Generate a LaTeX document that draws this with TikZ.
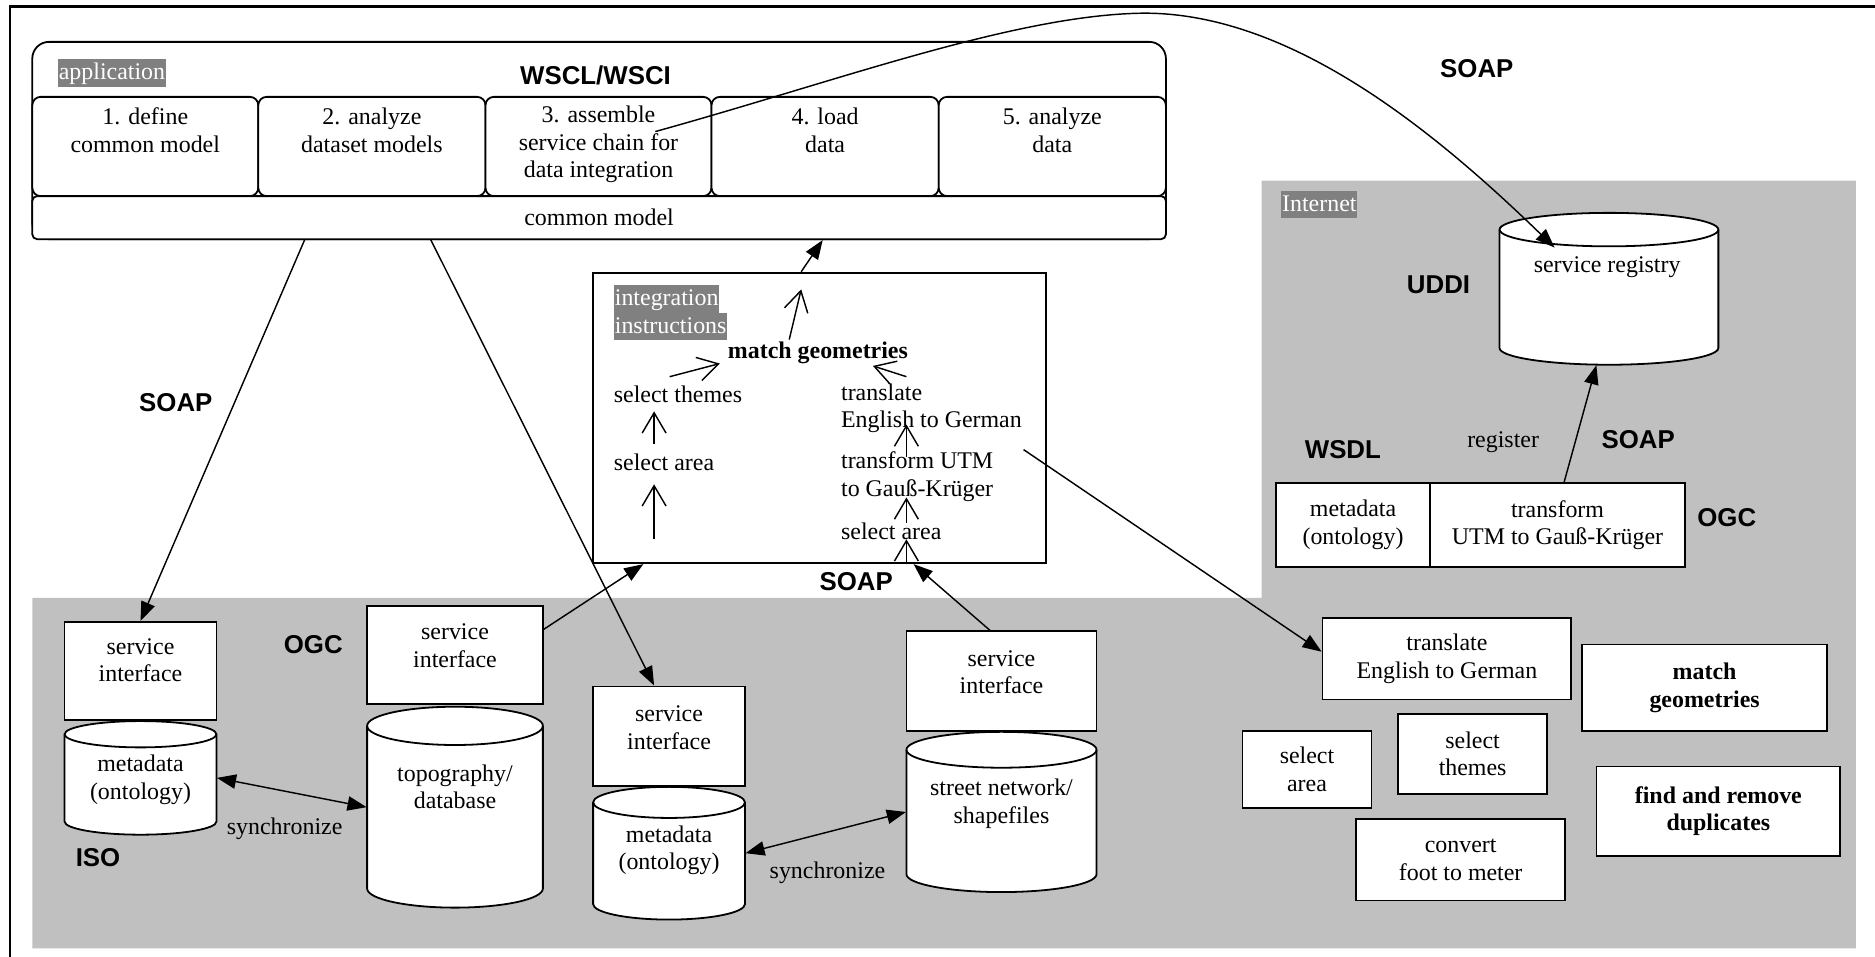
\documentclass[tikz,border=0pt]{standalone}
\usepackage{fontspec}
\setmainfont{Liberation Serif}
\setsansfont{Liberation Sans}
\usetikzlibrary{arrows.meta,calc}
\definecolor{zoneGray}{HTML}{C0C0C0}
\definecolor{tagGray}{HTML}{808080}

% rectangular box node: [options]{name}{x1}{y1}{x2}{y2}{text}
\newcommand\rbox[7][]{%
  \node[draw,fill=white,line width=0.75pt,#1,
        minimum width={(#5-#3)*0.5pt},minimum height={(#6-#4)*0.5pt}]
        (#2) at ({(#3+#5)/2},{(#4+#6)/2}) {#7};}

% upright cylinder (data store): {name}{x1}{y1}{x2}{y2}{ellipse half height}
\newcommand\drum[6]{%
  \pgfmathsetmacro\drx{(#4-#2)/4}%
  \pgfmathsetmacro\dry{#6/2}%
  \filldraw[line width=0.75pt,fill=white]
    (#2,{#3+#6}) -- (#2,{#5-#6})
    arc[start angle=180,end angle=360,x radius=\drx pt,y radius=\dry pt]
    -- (#4,{#3+#6})
    arc[start angle=0,end angle=180,x radius=\drx pt,y radius=\dry pt] -- cycle;
  \draw[line width=0.75pt] (#2,{#3+#6})
    arc[start angle=180,end angle=360,x radius=\drx pt,y radius=\dry pt];
  \node[minimum width={(#4-#2)*0.5pt},minimum height={(#5-#3)*0.5pt}]
    (#1) at ({(#2+#4)/2},{(#3+#5)/2}) {};}

\begin{document}
\begin{tikzpicture}[x=0.5pt,y=-0.5pt,
  every node/.style={inner sep=0pt},
  txt/.style={font=\fontsize{10}{11.5}\selectfont,align=center},
  btxt/.style={font=\bfseries\fontsize{10}{11.5}\selectfont,align=center},
  lbl/.style={font=\sffamily\bfseries\fontsize{10.8}{12}\selectfont},
  tag/.style={fill=tagGray,text=white,font=\fontsize{10}{11.5}\selectfont,
              text height=8.6pt,text depth=2.9pt,inner xsep=0.4pt},
  outline/.style={line width=0.75pt},
  conn/.style={line width=0.6pt},
  ftip/.style={-{Triangle[length=8pt,width=6pt]}},
  dtip/.style={{Triangle[length=8pt,width=6pt]}-{Triangle[length=8pt,width=6pt]}},
  vtip/.style={-{Straight Barb[length=8.5pt,width=10pt]}},
]
\useasboundingbox (0,0) rectangle (1568,800);

% shaded zones: local network and Internet
\fill[zoneGray] (27,500) -- (1055,500) -- (1055,151) -- (1552,151)
  -- (1552,793) -- (27,793) -- cycle;

% page frame
\draw[line width=1pt,line join=miter] (8.5,800) -- (8.5,5.5) -- (1568,5.5);

% ---------------- application ----------------
\draw[outline,rounded corners=7pt] (27,35) rectangle (975,200);
\node[tag,anchor=north west] (apptag) at (48,49) {application};
\node[lbl] (wscl) at (498,63) {WSCL/WSCI};
\rbox[rounded corners=3.5pt]{s1}{27}{81}{216}{164}{}
\rbox[rounded corners=3.5pt]{s2}{216}{81}{406}{164}{}
\rbox[rounded corners=3.5pt]{s3}{406}{81}{595}{164}{}
\rbox[rounded corners=3.5pt]{s4}{595}{81}{785}{164}{}
\rbox[rounded corners=3.5pt]{s5}{785}{81}{975}{164}{}
\node[txt] (t1) at (121.5,109) {1. define\\common model};
\node[txt] (t2) at (311,109) {2. analyze\\dataset models};
\node[txt] (t3) at (500.5,121) {3. assemble\\service chain for\\data integration};
\node[txt] (t4) at (690,109) {4. load\\data};
\node[txt] (t5) at (880,109) {5. analyze\\data};
\rbox[txt,rounded corners=2pt]{cm}{27}{164}{975}{200}{common model}

% ---------------- integration instructions ----------------
\rbox{intg}{496}{228}{875}{471}{}
\node[tag,anchor=north west] (intag1) at (513,238) {integration};
\node[tag,anchor=north west] (intag2) at (513,261) {instructions};
\node[btxt] (mg) at (684,295) {match geometries};
\node[txt,anchor=west] (lst) at (513,330) {select themes};
\node[txt,anchor=west] (lsa) at (513,387) {select area};
\node[txt,anchor=west,align=left] (rtr) at (703,341.5) {translate\\English to German};
\node[txt,anchor=west,align=left] (rtf) at (703,398.5) {transform UTM\\to Gauß-Krüger};
\node[txt,anchor=west] (rsa) at (703,444) {select area};

\coordinate (ia1) at (547,451); \coordinate (ib1) at (547,405);
\coordinate (ia2) at (547,371); \coordinate (ib2) at (547,344);
\coordinate (ia3) at (560,315); \coordinate (ib3) at (602,304);
\coordinate (ia4) at (758,315); \coordinate (ib4) at (730,306);
\coordinate (ib5) at (758,451);
\coordinate (ia6) at (758,437); \coordinate (ib6) at (758,416);
\coordinate (ia7) at (758,382); \coordinate (ib7) at (758,355);
\coordinate (ia8) at (660,284); \coordinate (ib8) at (670,242);
\draw[conn,vtip] (ia1) -- (ib1);
\draw[conn,vtip] (ia2) -- (ib2);
\draw[conn,vtip] (ia3) -- (ib3);
\draw[conn,vtip] (ia4) -- (ib4);
\draw[conn,vtip] ([xshift=36.25pt]intg.south) -- (ib5);
\draw[conn,vtip] (ia6) -- (ib6);
\draw[conn,vtip] (ia7) -- (ib7);
\draw[conn,vtip] (ia8) -- (ib8);

% ---------------- local services ----------------
\rbox{si1}{54}{520}{181}{602}{}
\node[txt] (si1t) at (117.5,552) {service\\interface};
\drum{meta1}{54}{603}{181}{698}{11}
\node[txt] (meta1t) at (117.5,652) {metadata\\(ontology)};

\rbox{tsi}{307}{507}{454}{589}{}
\node[txt] (tsit) at (380.5,540) {service\\interface};
\drum{topo}{307}{591}{454}{759}{16}
\node[txt] (topot) at (380.5,658) {topography/\\database};

\rbox{si2}{496}{574}{623}{657}{}
\node[txt] (si2t) at (559.5,608.5) {service\\interface};
\drum{meta2}{496}{658}{623}{769}{13}
\node[txt] (meta2t) at (559.5,711) {metadata\\(ontology)};

\rbox{ssi}{758}{528}{917}{611}{}
\node[txt] (ssit) at (837.5,562) {service\\interface};
\drum{street}{758}{612}{917}{746}{15}
\node[txt] (streett) at (837.5,672) {street network/\\shapefiles};

\node[lbl] (ogc1) at (262,539) {OGC};
\node[lbl] (iso) at (82,717) {ISO};
\node[lbl] (soap1) at (147,337) {SOAP};
\node[lbl] (soap2) at (716,486) {SOAP};
\node[txt] (sync1) at (238,693) {synchronize};
\node[txt] (sync2) at (692,730) {synchronize};

% ---------------- Internet ----------------
\node[tag,anchor=north west] (nettag) at (1071,159) {Internet};
\drum{reg}{1254}{178}{1437}{305}{14}
\node[txt] (regt) at (1344,223) {service registry};
\rbox[txt]{mdb}{1067}{404}{1196}{474}{metadata\\(ontology)}
\rbox[txt]{tgk}{1196}{404}{1409}{474}{transform\\UTM to Gauß-Krüger}
\node[lbl] (soap3) at (1235,57) {SOAP};
\node[lbl] (uddi) at (1203,238) {UDDI};
\node[lbl] (wsdl) at (1123,376) {WSDL};
\node[txt] (regis) at (1257,370) {register};
\node[lbl] (soap4) at (1370,368) {SOAP};
\node[lbl] (ogc2) at (1444,433) {OGC};

% ---------------- service catalogue ----------------
\rbox[txt]{tr}{1106}{517}{1314}{585}{translate\\English to German}
\rbox[btxt]{mgb}{1323}{539}{1528}{611}{match\\geometries}
\rbox[txt]{sab}{1039}{611}{1147}{676}{select\\area}
\rbox[txt]{stb}{1169}{597}{1294}{664}{select\\themes}
\rbox[btxt]{frd}{1335}{641}{1539}{716}{find and remove\\duplicates}
\rbox[txt]{cft}{1134}{685}{1309}{753}{convert\\foot to meter}

% ---------------- connectors ----------------
\coordinate (cmA) at (255,200);
\coordinate (cmB) at (360,200);
\draw[conn,ftip] (cmA) -- (si1.north);
\draw[conn,ftip] (cmB) -- ([xshift=-6.25pt]si2.north);
\draw[conn,ftip] ([yshift=-10pt]tsi.north east) -- ([xshift=-73.75pt]intg.south);
\draw[conn,ftip] ([xshift=-4.75pt]ssi.north) -- ([xshift=39.25pt]intg.south);
\draw[conn,ftip] ([xshift=-7.75pt]intg.north) -- ([xshift=93.5pt]cm.south);
\draw[conn,dtip] (meta1.east) -- (topo.west);
\draw[conn,dtip] (meta2.east) -- (street.west);
\draw[conn,ftip] ([xshift=2.75pt]tgk.north) -- ([xshift=-5.25pt]reg.south);

\coordinate (asm) at (548,110);
\coordinate (regin) at (1300,207);
\draw[conn,ftip] (asm) .. controls (700,68) and (850,12) .. (957,11)
  .. controls (1080,11) and (1200,110) .. (regin);

\coordinate (eng) at (856,376);
\draw[conn,ftip] (eng) -- ([yshift=3pt]tr.west);
\end{tikzpicture}
\end{document}
